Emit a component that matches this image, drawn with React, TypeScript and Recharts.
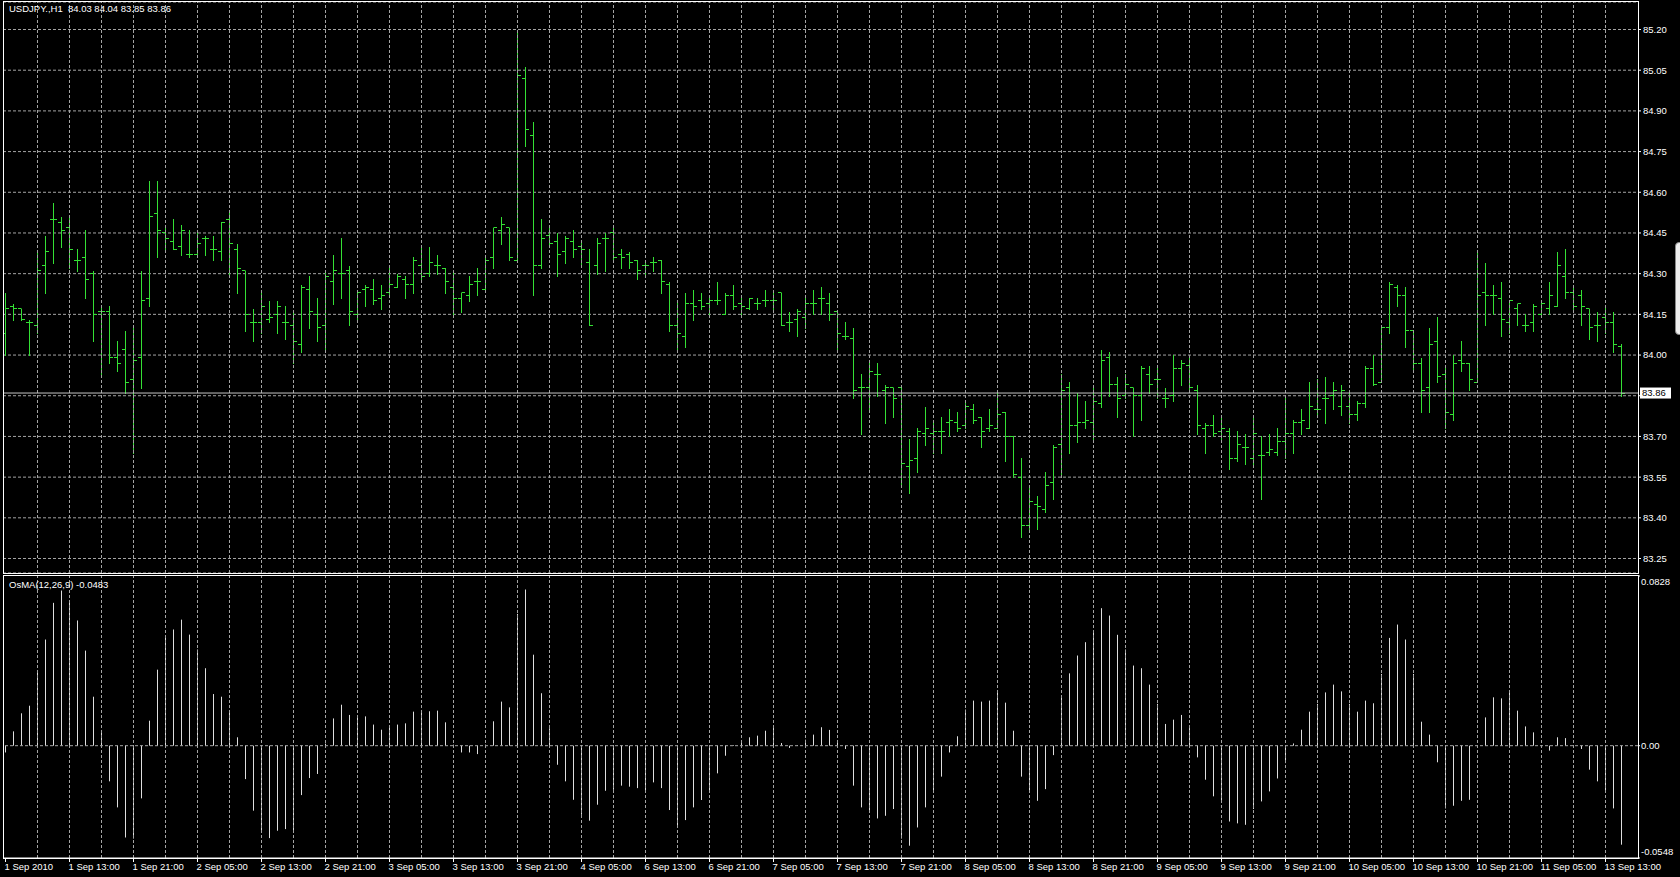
import { ComposedChart, Bar, XAxis, YAxis, CartesianGrid, ReferenceLine } from 'recharts'

// USDJPY H1, 1 Sep 2010 - 13 Sep 2010, one entry per hourly bar
const opens = [
  84.08, 84.18, 84.17, 84.12, 84.11, 84.33, 84.5, 84.49, 84.47, 84.35,
  84.36, 84.3, 84.16, 84.16, 83.99, 84.02, 83.91, 83.99, 84.21, 84.52,
  84.45, 84.42, 84.4, 84.37, 84.37, 84.43, 84.39, 84.38, 84.5, 84.39,
  84.31, 84.12, 84.12, 84.13, 84.15, 84.12, 84.11, 84.04, 84.24, 84.15,
  84.11, 84.27, 84.3, 84.31, 84.15, 84.24, 84.24, 84.21, 84.23, 84.25,
  84.28, 84.26, 84.33, 84.3, 84.33, 84.32, 84.25, 84.21, 84.22, 84.27,
  84.24, 84.36, 84.46, 84.47, 84.35, 85.02, 84.81, 84.33, 84.44, 84.42,
  84.38, 84.42, 84.4, 84.34, 84.33, 84.43, 84.45, 84.37, 84.37, 84.35,
  84.33, 84.34, 84.35, 84.26, 84.11, 84.07, 84.19, 84.2, 84.19, 84.2,
  84.15, 84.22, 84.19, 84.17, 84.19, 84.2, 84.2, 84.23, 84.12, 84.13,
  84.14, 84.19, 84.21, 84.19, 84.16, 84.07, 84.06, 83.88, 83.88, 83.93,
  83.87, 83.88, 83.88, 83.59, 83.62, 83.71, 83.71, 83.72, 83.75, 83.75,
  83.74, 83.8, 83.77, 83.73, 83.73, 83.79, 83.7, 83.55, 83.37, 83.45,
  83.43, 83.53, 83.67, 83.88, 83.74, 83.75, 83.75, 83.82, 83.99, 83.89,
  83.85, 83.88, 83.85, 83.93, 83.91, 83.84, 83.85, 83.95, 83.96, 83.87,
  83.73, 83.74, 83.72, 83.72, 83.62, 83.66, 83.62, 83.63, 83.64, 83.64,
  83.68, 83.71, 83.75, 83.73, 83.8, 83.84, 83.85, 83.81, 83.81, 83.78,
  83.82, 83.95, 83.9, 84.1, 84.25, 84.22, 84.09, 83.97, 83.88, 84.05,
  83.93, 83.78, 83.98, 83.97, 83.9, 84.23, 84.22, 84.21, 84.12, 84.17,
  84.11, 84.12, 84.15, 84.17, 84.18, 84.29, 84.23, 84.22, 84.17, 84.11,
  84.14, 84.12, 84.03,
]
const highs = [
  84.23, 84.19, 84.17, 84.13, 84.38, 84.44, 84.56, 84.51, 84.51, 84.39,
  84.46, 84.31, 84.18, 84.18, 84.05, 84.09, 84.11, 84.31, 84.64, 84.64,
  84.48, 84.5, 84.48, 84.46, 84.45, 84.44, 84.44, 84.49, 84.53, 84.41,
  84.31, 84.17, 84.24, 84.2, 84.2, 84.18, 84.16, 84.26, 84.29, 84.21,
  84.31, 84.37, 84.43, 84.33, 84.24, 84.26, 84.28, 84.26, 84.33, 84.3,
  84.29, 84.36, 84.4, 84.4, 84.37, 84.32, 84.31, 84.23, 84.29, 84.32,
  84.37, 84.47, 84.51, 84.47, 85.2, 85.06, 84.86, 84.5, 84.48, 84.45,
  84.44, 84.46, 84.42, 84.39, 84.43, 84.45, 84.47, 84.39, 84.38, 84.35,
  84.35, 84.36, 84.35, 84.27, 84.2, 84.23, 84.24, 84.23, 84.22, 84.27,
  84.23, 84.26, 84.22, 84.21, 84.21, 84.24, 84.23, 84.23, 84.16, 84.17,
  84.22, 84.24, 84.25, 84.23, 84.16, 84.12, 84.1, 83.93, 83.98, 83.97,
  83.89, 83.88, 83.89, 83.69, 83.73, 83.81, 83.76, 83.77, 83.8, 83.79,
  83.83, 83.82, 83.77, 83.8, 83.86, 83.79, 83.7, 83.62, 83.51, 83.48,
  83.57, 83.67, 83.93, 83.9, 83.86, 83.83, 83.89, 84.02, 84.01, 83.92,
  83.93, 83.88, 83.96, 83.96, 83.96, 83.88, 84.0, 83.98, 84.0, 83.89,
  83.75, 83.78, 83.78, 83.73, 83.72, 83.71, 83.78, 83.7, 83.71, 83.73,
  83.85, 83.76, 83.8, 83.9, 83.91, 83.92, 83.9, 83.89, 83.87, 83.83,
  83.96, 84.0, 84.11, 84.27, 84.26, 84.25, 84.09, 83.99, 84.1, 84.14,
  83.96, 84.0, 84.05, 83.97, 84.38, 84.34, 84.26, 84.27, 84.2, 84.19,
  84.15, 84.19, 84.2, 84.27, 84.38, 84.39, 84.26, 84.24, 84.17, 84.16,
  84.18, 84.16, 84.04,
]
const lows = [
  84.0, 84.13, 84.13, 84.0, 84.08, 84.23, 84.34, 84.4, 84.32, 84.31,
  84.21, 84.05, 83.92, 83.97, 83.94, 83.86, 83.64, 83.88, 84.18, 84.36,
  84.39, 84.39, 84.37, 84.36, 84.37, 84.37, 84.35, 84.35, 84.3, 84.23,
  84.09, 84.05, 84.08, 84.12, 84.08, 84.06, 83.97, 84.01, 84.1, 84.05,
  84.02, 84.19, 84.21, 84.11, 84.13, 84.18, 84.19, 84.17, 84.22, 84.25,
  84.21, 84.23, 84.28, 84.29, 84.3, 84.23, 84.15, 84.16, 84.2, 84.22,
  84.24, 84.32, 84.41, 84.35, 84.35, 84.77, 84.22, 84.32, 84.4, 84.29,
  84.34, 84.36, 84.33, 84.11, 84.3, 84.31, 84.35, 84.32, 84.32, 84.28,
  84.29, 84.31, 84.23, 84.09, 84.02, 84.03, 84.13, 84.17, 84.14, 84.19,
  84.15, 84.17, 84.14, 84.17, 84.17, 84.18, 84.17, 84.11, 84.09, 84.07,
  84.1, 84.15, 84.15, 84.13, 84.02, 84.06, 83.84, 83.71, 83.79, 83.85,
  83.75, 83.77, 83.52, 83.49, 83.57, 83.67, 83.64, 83.64, 83.7, 83.72,
  83.73, 83.75, 83.66, 83.72, 83.73, 83.61, 83.55, 83.33, 83.35, 83.36,
  83.42, 83.47, 83.55, 83.64, 83.68, 83.73, 83.69, 83.81, 83.85, 83.77,
  83.84, 83.7, 83.76, 83.86, 83.84, 83.81, 83.83, 83.89, 83.87, 83.71,
  83.64, 83.7, 83.68, 83.58, 83.61, 83.6, 83.6, 83.47, 83.63, 83.63,
  83.62, 83.64, 83.71, 83.73, 83.77, 83.75, 83.8, 83.78, 83.75, 83.76,
  83.81, 83.89, 83.9, 84.08, 84.18, 84.03, 83.95, 83.79, 83.79, 83.9,
  83.73, 83.76, 83.94, 83.87, 83.9, 84.11, 84.15, 84.07, 84.08, 84.11,
  84.09, 84.09, 84.14, 84.15, 84.18, 84.21, 84.16, 84.11, 84.06, 84.05,
  84.08, 84.01, 83.85,
]
const closes = [
  84.17, 84.17, 84.13, 84.12, 84.31, 84.38, 84.5, 84.46, 84.39, 84.35,
  84.28, 84.15, 84.16, 83.99, 83.97, 83.9, 83.98, 84.2, 84.51, 84.46,
  84.43, 84.39, 84.46, 84.37, 84.41, 84.43, 84.39, 84.49, 84.41, 84.32,
  84.15, 84.12, 84.18, 84.14, 84.18, 84.12, 84.05, 84.25, 84.16, 84.1,
  84.29, 84.31, 84.3, 84.16, 84.23, 84.25, 84.2, 84.22, 84.26, 84.29,
  84.26, 84.35, 84.29, 84.34, 84.33, 84.27, 84.21, 84.23, 84.26, 84.27,
  84.35, 84.47, 84.48, 84.36, 85.03, 84.83, 84.33, 84.43, 84.41, 84.37,
  84.43, 84.39, 84.39, 84.11, 84.41, 84.43, 84.36, 84.36, 84.34, 84.31,
  84.33, 84.34, 84.27, 84.11, 84.08, 84.19, 84.18, 84.18, 84.2, 84.2,
  84.22, 84.18, 84.18, 84.21, 84.19, 84.2, 84.2, 84.11, 84.12, 84.16,
  84.19, 84.19, 84.21, 84.15, 84.08, 84.07, 83.87, 83.88, 83.94, 83.93,
  83.88, 83.84, 83.6, 83.61, 83.72, 83.73, 83.72, 83.72, 83.76, 83.73,
  83.81, 83.76, 83.72, 83.74, 83.78, 83.7, 83.56, 83.37, 83.46, 83.44,
  83.52, 83.66, 83.87, 83.74, 83.75, 83.76, 83.83, 83.98, 83.89, 83.84,
  83.89, 83.85, 83.95, 83.89, 83.91, 83.84, 83.95, 83.97, 83.88, 83.74,
  83.74, 83.71, 83.73, 83.62, 83.67, 83.66, 83.71, 83.63, 83.65, 83.68,
  83.71, 83.75, 83.76, 83.81, 83.8, 83.84, 83.87, 83.87, 83.78, 83.82,
  83.95, 83.89, 84.1, 84.26, 84.22, 84.09, 83.97, 83.87, 84.04, 83.92,
  83.79, 83.97, 83.97, 83.91, 84.22, 84.22, 84.22, 84.13, 84.2, 84.19,
  84.11, 84.18, 84.19, 84.22, 84.33, 84.23, 84.18, 84.18, 84.1, 84.11,
  84.12, 84.04, 83.86,
]
// OsMA(12,26,9)
const osma = [
  -0.0033, 0.007, 0.0158, 0.0195, 0.0361, 0.0518, 0.0697, 0.0757, 0.0708, 0.0611,
  0.0464, 0.0239, 0.0065, -0.0174, -0.0301, -0.0448, -0.0453, -0.0257, 0.0122, 0.0371,
  0.0526, 0.0567, 0.0615, 0.0542, 0.0469, 0.0378, 0.0252, 0.0239, 0.0174, 0.0041,
  -0.0163, -0.0317, -0.042, -0.0451, -0.0415, -0.0407, -0.042, -0.0241, -0.0158, -0.0138,
  0.001, 0.0133, 0.02, 0.015, 0.0147, 0.0143, 0.0103, 0.0078, 0.009, 0.0103,
  0.0109, 0.0166, 0.016, 0.0168, 0.0171, 0.0114, 0.0005, -0.0033, -0.0033, -0.0041,
  0.0005, 0.0119, 0.0215, 0.0187, 0.0643, 0.0762, 0.0444, 0.0256, 0.0085, -0.0093,
  -0.0174, -0.0264, -0.0337, -0.0366, -0.0288, -0.022, -0.0215, -0.0195, -0.02, -0.0207,
  -0.0217, -0.0179, -0.0207, -0.0314, -0.0399, -0.0363, -0.0301, -0.0265, -0.0217, -0.0135,
  -0.0049, 0.0003, 0.0013, 0.0041, 0.0049, 0.0073, 0.0086, 0.0013, -0.0011, 0.0003,
  0.0029, 0.0054, 0.009, 0.0077, 0.0024, -0.0016, -0.0195, -0.0301, -0.0317, -0.0355,
  -0.0342, -0.0309, -0.0453, -0.0488, -0.0399, -0.0301, -0.0228, -0.0151, -0.0033, 0.0046,
  0.0176, 0.022, 0.0215, 0.022, 0.0264, 0.021, 0.0073, -0.0151, -0.0228, -0.0269,
  -0.0212, -0.0046, 0.0233, 0.0353, 0.044, 0.0505, 0.0557, 0.0671, 0.0635, 0.0541,
  0.0469, 0.0391, 0.0378, 0.0298, 0.0204, 0.0106, 0.0127, 0.015, 0.0086, -0.0057,
  -0.0166, -0.0247, -0.0277, -0.037, -0.0379, -0.0386, -0.0309, -0.0272, -0.0223, -0.016,
  -0.0085, 0.0011, 0.0078, 0.0166, 0.0204, 0.026, 0.0298, 0.0265, 0.0204, 0.0166,
  0.022, 0.0207, 0.035, 0.0526, 0.0591, 0.0518, 0.035, 0.0117, 0.0054, -0.0081,
  -0.0306, -0.0293, -0.0269, -0.0264, -0.0005, 0.0138, 0.0236, 0.0231, 0.0264, 0.0171,
  0.0094, 0.0065, 0.0003, -0.0024, 0.0041, 0.0037, 0.0003, -0.0016, -0.0117, -0.0174,
  -0.0223, -0.0306, -0.0483,
]

const timeLabels = [
  '1 Sep 2010', '1 Sep 13:00', '1 Sep 21:00', '2 Sep 05:00', '2 Sep 13:00', '2 Sep 21:00',
  '3 Sep 05:00', '3 Sep 13:00', '3 Sep 21:00', '4 Sep 05:00', '6 Sep 13:00', '6 Sep 21:00',
  '7 Sep 05:00', '7 Sep 13:00', '7 Sep 21:00', '8 Sep 05:00', '8 Sep 13:00', '8 Sep 21:00',
  '9 Sep 05:00', '9 Sep 13:00', '9 Sep 21:00', '10 Sep 05:00', '10 Sep 13:00', '10 Sep 21:00',
  '11 Sep 05:00', '13 Sep 13:00',
]
const priceTicks = [85.2, 85.05, 84.9, 84.75, 84.6, 84.45, 84.3, 84.15, 84.0, 83.85, 83.7, 83.55, 83.4, 83.25]
const osmaTicks = [-0.0548, 0, 0.0828]

const FONT = '"Liberation Sans", Arial, sans-serif'
const GRID = '#a4a4a4'
const DASH = '3 2'
const X_DOMAIN = [-0.3125, 204.0625]
const PRICE_DOMAIN = [83.1966, 85.3014]

const labelIdx = timeLabels.map((_, k) => k * 8)
const gridIdx = Array.from({ length: 50 }, (_, k) => 4 + k * 4)

const last = opens.length - 1
const bid = closes[last]

const bars = opens.map((o, i) => ({
  i,
  open: o,
  high: highs[i],
  low: lows[i],
  close: closes[i],
  range: [lows[i], highs[i]],
  osma: osma[i],
}))

function OhlcShape(props: any) {
  const { x, y, width, height, payload } = props
  const cx = Math.floor(x + width / 2) + 0.5
  const top = Math.min(y, y + height)
  const bottom = Math.max(y, y + height)
  const span = payload.high - payload.low
  const py = (v: number) => (span > 0 ? top + ((payload.high - v) / span) * (bottom - top) : top)
  const yo = Math.round(py(payload.open) - 0.5) + 0.5
  const yc = Math.round(py(payload.close) - 0.5) + 0.5
  return (
    <g stroke="#34e034" strokeWidth={1}>
      <line x1={cx} x2={cx} y1={Math.round(top)} y2={Math.round(bottom) + 1} />
      <line x1={cx - 3.5} x2={cx} y1={yo} y2={yo} />
      <line x1={cx} x2={cx + 3.5} y1={yc} y2={yc} />
    </g>
  )
}

function OsmaShape(props: any) {
  const { x, y, width, height } = props
  const cx = Math.floor(x + width / 2) + 0.5
  return <line x1={cx} x2={cx} y1={y} y2={y + height} stroke="#dedede" strokeWidth={1} />
}

function PriceTick(props: any) {
  const { x, y, payload } = props
  // the bid box sits over the nearest label
  if (Math.abs(payload.value - bid) < 0.03) return null
  return (
    <text x={x} y={y} dy="0.355em" fill="#fff" fontSize={9.5} fontFamily={FONT}>
      {payload.value.toFixed(2)}
    </text>
  )
}

function OsmaTick(props: any) {
  const { x, y, payload } = props
  const v = payload.value
  const shift = v > 0 ? 6 : v < 0 ? -6 : 0
  return (
    <text x={x} y={y + shift} dy="0.355em" fill="#fff" fontSize={9.5} fontFamily={FONT}>
      {v === 0 ? '0.00' : v.toFixed(4)}
    </text>
  )
}

function TimeTick(props: any) {
  const { x, y, payload } = props
  const k = labelIdx.indexOf(payload.value)
  return (
    <text x={x - 1} y={y} dy="0.71em" fill="#fff" fontSize={9.5} fontFamily={FONT}>
      {timeLabels[k]}
    </text>
  )
}

function BidLabel(props: any) {
  const { viewBox } = props
  const x = viewBox.x + viewBox.width
  const y = viewBox.y
  return (
    <g>
      <rect x={x + 2} y={y - 5.5} width={31} height={11} fill="#fff" />
      <text x={x + 4} y={y} dy="0.355em" fill="#000" fontSize={9.5} fontFamily={FONT}>
        {bid.toFixed(2)}
      </text>
    </g>
  )
}

const abs = (style: any) => ({ position: 'absolute' as const, pointerEvents: 'none' as const, ...style })

export default function App() {
  const header = `USDJPY.,H1  ${opens[last].toFixed(2)} ${highs[last].toFixed(2)} ${lows[last].toFixed(2)} ${closes[last].toFixed(2)}`
  return (
    <div style={{ position: 'fixed', left: 0, top: 0, width: 1680, height: 877, background: '#000', overflow: 'hidden' }}>
      <div style={abs({ left: 0, top: 0 })}>
        <ComposedChart width={1680} height={575} data={bars} margin={{ top: 2, right: 0, bottom: 2, left: 3 }}>
          <CartesianGrid vertical={false} stroke={GRID} strokeDasharray={DASH} />
          {gridIdx.map((i) => (
            <ReferenceLine key={i} x={i} stroke={GRID} strokeDasharray={DASH} />
          ))}
          <XAxis dataKey="i" type="number" domain={X_DOMAIN} allowDataOverflow hide />
          <YAxis
            orientation="right"
            type="number"
            domain={PRICE_DOMAIN}
            allowDataOverflow
            ticks={priceTicks}
            interval={0}
            width={42}
            axisLine={false}
            tickLine={{ stroke: '#fff' }}
            tickSize={3}
            tickMargin={2}
            tick={<PriceTick />}
          />
          <ReferenceLine y={bid} stroke="#c4c4c4" label={<BidLabel />} />
          <Bar dataKey="range" barSize={6} shape={<OhlcShape />} isAnimationActive={false} />
        </ComposedChart>
      </div>

      <div style={abs({ left: 0, top: 575 })}>
        <ComposedChart width={1680} height={302} data={bars} margin={{ top: 1, right: 0, bottom: 0, left: 3 }}>
          {gridIdx.map((i) => (
            <ReferenceLine key={i} x={i} stroke={GRID} strokeDasharray={DASH} />
          ))}
          <ReferenceLine y={0} stroke={GRID} strokeDasharray={DASH} />
          <XAxis
            dataKey="i"
            type="number"
            domain={X_DOMAIN}
            allowDataOverflow
            ticks={labelIdx}
            interval={0}
            height={19}
            axisLine={{ stroke: '#fff' }}
            tickLine={{ stroke: '#fff' }}
            tickSize={4}
            tickMargin={1}
            tick={<TimeTick />}
          />
          <YAxis
            orientation="right"
            type="number"
            domain={[osmaTicks[0], osmaTicks[2]]}
            allowDataOverflow
            ticks={osmaTicks}
            interval={0}
            width={42}
            axisLine={false}
            tickLine={{ stroke: '#fff' }}
            tickSize={2}
            tickMargin={1}
            tick={<OsmaTick />}
          />
          <Bar dataKey="osma" barSize={1} shape={<OsmaShape />} isAnimationActive={false} />
        </ComposedChart>
      </div>

      {/* panel frames */}
      <div style={abs({ left: 3, top: 1, width: 1636, height: 573, border: '1px solid #fff', boxSizing: 'border-box' })} />
      <div style={abs({ left: 3, top: 575, width: 1636, height: 284, border: '1px solid #fff', boxSizing: 'border-box' })} />
      <div style={abs({ left: 1675, top: 242, width: 10, height: 93, background: '#eee', border: '1px solid #888', borderRadius: 4, boxSizing: 'border-box' })} />

      <div style={abs({ left: 9, top: 3, color: '#fff', fontSize: 9.5, fontFamily: FONT, whiteSpace: 'pre', lineHeight: '12px' })}>{header}</div>
      <div style={abs({ left: 9, top: 579, color: '#fff', fontSize: 9.5, fontFamily: FONT, whiteSpace: 'pre', lineHeight: '12px' })}>
        {`OsMA(12,26,9) ${osma[last].toFixed(4)}`}
      </div>
    </div>
  )
}
